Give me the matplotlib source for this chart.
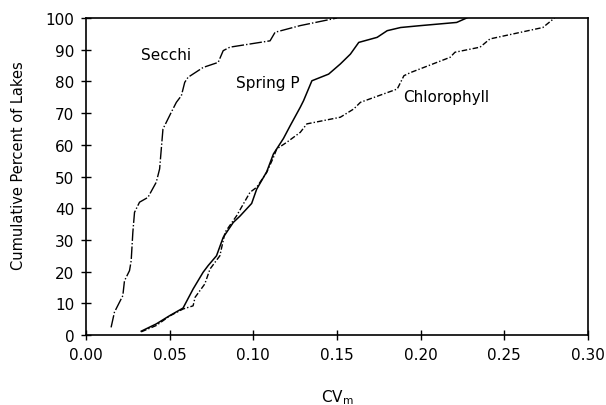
import matplotlib
matplotlib.use("Agg")
import matplotlib.pyplot as plt

# ----------------------------------------------------
# DATA: cumulative distributions of CV_m
# ----------------------------------------------------
secchi_cv = [0.015, 0.017, 0.022, 0.023, 0.026, 0.027, 0.028, 0.029, 0.032, 0.037,
             0.042, 0.044, 0.046, 0.048, 0.051, 0.054, 0.057, 0.059, 0.061, 0.070,
             0.079, 0.082, 0.086, 0.110, 0.113, 0.128, 0.150]
secchi_pct = [2.4, 7.2, 12.4, 17.1, 20.3, 23.4, 32.4, 38.7, 41.9, 43.4,
              48.2, 52.4, 65.0, 67.1, 70.3, 73.4, 75.5, 79.7, 81.3, 84.4,
              86.0, 89.7, 90.8, 92.8, 95.5, 97.6, 100.0]

springp_cv = [0.033, 0.042, 0.050, 0.058, 0.064, 0.070, 0.073, 0.078, 0.082, 0.088,
              0.092, 0.099, 0.102, 0.108, 0.112, 0.118, 0.122, 0.128, 0.130, 0.135,
              0.145, 0.152, 0.158, 0.163, 0.174, 0.180, 0.188, 0.200, 0.2215, 0.2275]
springp_pct = [1.2, 3.5, 6.1, 8.5, 14.5, 19.8, 21.9, 25.0, 30.8, 35.5,
               37.5, 41.5, 46.0, 51.5, 57.1, 62.0, 66.0, 71.8, 73.9, 80.2,
               82.3, 85.5, 88.6, 92.3, 93.9, 96.0, 97.0, 97.6, 98.6, 100.0]

chl_cv = [0.033, 0.042, 0.050, 0.058, 0.064, 0.0652, 0.071, 0.0741, 0.080, 0.0831,
          0.090, 0.098, 0.102, 0.108, 0.112, 0.114, 0.120, 0.128, 0.132, 0.152,
          0.160, 0.164, 0.186, 0.190, 0.194, 0.2176, 0.2205, 0.2355, 0.2414, 0.273,
          0.280]
chl_pct = [1.0, 3.0, 6.0, 8.2, 9.2, 11.9, 16.1, 20.8, 25.0, 32.4,
           37.6, 45.0, 46.6, 51.3, 56.0, 58.7, 60.8, 63.9, 66.6, 68.7,
           71.3, 73.4, 77.6, 81.8, 82.8, 87.6, 89.2, 90.8, 93.4, 97.0,
           100.0]

x_ticks = [0.00, 0.05, 0.10, 0.15, 0.20, 0.25, 0.30]
y_ticks = list(range(0, 101, 10))

# ----------------------------------------------------
# PLOT
# ----------------------------------------------------
plt.rcParams["font.family"] = ["DejaVu Sans"]

fig = plt.figure(figsize=(6.06, 4.06), dpi=100)
ax = fig.add_axes([0.1419, 0.1724, 0.8284, 0.7808])

ax.plot(secchi_cv, secchi_pct, color="black", lw=1.0,
        linestyle=(0, (9, 1.5, 1, 1.5)))
ax.plot(springp_cv, springp_pct, color="black", lw=1.1, linestyle="-")
ax.plot(chl_cv, chl_pct, color="black", lw=1.0,
        linestyle=(0, (4, 1.5, 1, 1.5)))

ax.text(0.0478, 88.6, "Secchi", fontsize=11, ha="center", va="center")
ax.text(0.0896, 79.5, "Spring P", fontsize=11, ha="left", va="center")
ax.text(0.1894, 75.1, "Chlorophyll", fontsize=11, ha="left", va="center")

ax.set_xlim(0, 0.30)
ax.set_ylim(0, 100)
ax.set_xticks(x_ticks)
ax.set_xticklabels([f"{t:.2f}" for t in x_ticks])
ax.set_yticks(y_ticks)
ax.tick_params(direction="inout", length=7, width=1, labelsize=11, pad=5)

for s in ax.spines.values():
    s.set_linewidth(1.2)

ax.set_xlabel(r"CV$_{\mathrm{m}}$", fontsize=11)
ax.xaxis.set_label_coords(0.5, -0.165)
ax.set_ylabel("Cumulative Percent of Lakes", fontsize=10.5)
ax.yaxis.set_label_coords(-0.12, 0.539)

plt.savefig("out.png", dpi=100)
plt.close()
